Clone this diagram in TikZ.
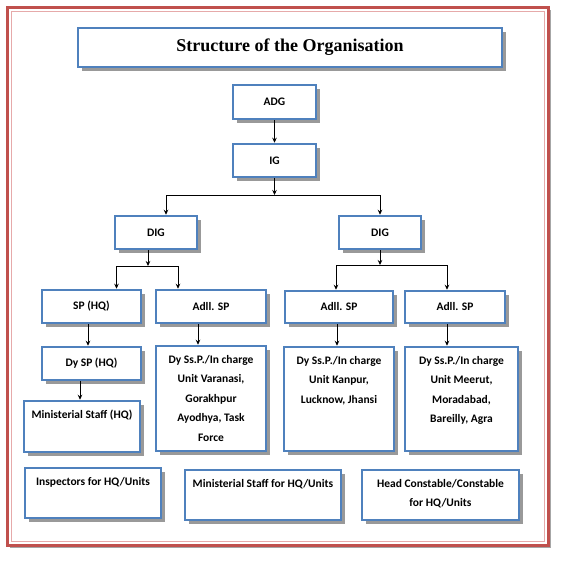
\documentclass[tikz,border=0pt]{standalone}
\usepackage{fontspec}
\setmainfont{Carlito}
\newfontfamily\titlefont{Liberation Serif}
\usetikzlibrary{shadows,arrows.meta}

\definecolor{boxblue}{RGB}{79,129,189}
\definecolor{framered}{RGB}{192,80,77}
\definecolor{framepink}{RGB}{230,170,170}

\begin{document}
\begin{tikzpicture}[x=1pt,y=-1pt]
	\tikzset{
		post/.style={draw=boxblue, line width=2.5pt, fill=white, inner sep=0pt,
			font=\fontsize{11.5}{19.5}\selectfont\bfseries, align=center,
			drop shadow={shadow xshift=3.5pt, shadow yshift=-3.5pt, fill=black!40, opacity=1}},
		toptext/.style={inner sep=0pt, font=\fontsize{11.5}{19.5}\selectfont\bfseries, align=center},
		every path/.style={>={Stealth[length=5pt,width=4.5pt]}},
		link/.style={->, line width=0.8pt}
	}
	\useasboundingbox (0,0) rectangle (564,562);

	% outer frame
	\draw[framered, line width=3pt, fill=white,
		drop shadow={shadow xshift=3pt, shadow yshift=-3pt, fill=black!35, opacity=1}] (7,7) rectangle (548,545);
	\draw[framepink, line width=1pt] (11,11) rectangle (544,541);

	\node [post, minimum width=424, minimum height=39] (title) at (290,47.5)
		{\titlefont\fontsize{18}{20}\selectfont\bfseries Structure of the Organisation};

	\node [post, minimum width=83, minimum height=34] (adg) at (274.5,102) {ADG};
	\node [post, minimum width=83, minimum height=33] (ig)  at (274.5,160.5) {IG};

	\node [post, minimum width=82, minimum height=33] (digL) at (156,232.5) {DIG};
	\node [post, minimum width=82, minimum height=33] (digR) at (380,232.5) {DIG};

	\node [post, minimum width=99,  minimum height=33] (sphq)  at (91.5,306.5) {SP (HQ)};
	\node [post, minimum width=110, minimum height=33] (adllA) at (211,306.5) {Adll. SP};
	\node [post, minimum width=108, minimum height=32] (adllB) at (339,307) {Adll. SP};
	\node [post, minimum width=100, minimum height=32] (adllC) at (455,307) {Adll. SP};

	\node [post, minimum width=99, minimum height=33] (dysphq) at (91.5,363.5) {Dy SP (HQ)};
	\node [post, minimum width=116, minimum height=51,
		label={[toptext, anchor=north, yshift=-10pt]north:Ministerial Staff (HQ)}] (minhq) at (82,426.5) {};

	\node [post, minimum width=110, minimum height=105,
		label={[toptext, anchor=north, yshift=-10pt]north:Dy Ss.P./In charge\\Unit Varanasi,\\Gorakhpur\\Ayodhya, Task\\Force}] (dyA) at (211,398.5) {};
	\node [post, minimum width=110, minimum height=104,
		label={[toptext, anchor=north, yshift=-10pt]north:Dy Ss.P./In charge\\Unit Kanpur,\\Lucknow, Jhansi}] (dyB) at (339,399) {};
	\node [post, minimum width=113, minimum height=104,
		label={[toptext, anchor=north, yshift=-10pt]north:Dy Ss.P./In charge\\Unit Meerut,\\Moradabad,\\Bareilly, Agra}] (dyC) at (461.5,399) {};

	\node [post, minimum width=136, minimum height=50,
		label={[toptext, anchor=north, yshift=-10pt]north:Inspectors for HQ/Units}] (insp) at (93,493) {};
	\node [post, minimum width=156, minimum height=50,
		label={[toptext, anchor=north, yshift=-10pt]north:Ministerial Staff for HQ/Units}] (minunits) at (263,495) {};
	\node [post, minimum width=157, minimum height=50,
		label={[toptext, anchor=north, yshift=-10pt]north:Head Constable/Constable\\for HQ/Units}] (headc) at (440.5,495) {};

	% connectors
	\coordinate (igj)   at (274.5,195);
	\coordinate (digLj) at (148,266);
	\coordinate (digRj) at (380,265);

	\draw[link] (adg) -- (ig);
	\draw[link] (ig) -- (igj);
	\draw[link] (igj) -| ([xshift=10pt]digL.north);
	\draw[link] (igj) -| (digR.north);

	\draw[link] (digL.south -| digLj) -- (digLj);
	\draw[link] (digLj) -| ([xshift=25pt]sphq.north);
	\draw[link] (digLj) -| ([xshift=-33pt]adllA.north);

	\draw[link] (digR) -- (digRj);
	\draw[link] (digRj) -| ([xshift=-3pt]adllB.north);
	\draw[link] (digRj) -| ([xshift=-8pt]adllC.north);

	\draw[link] ([xshift=-3.5pt]sphq.south) -- ([xshift=-3.5pt]dysphq.north);
	\draw[link] ([xshift=-11.5pt]dysphq.south) -- ([xshift=-2pt]minhq.north);
	\draw[link] ([xshift=-13pt]adllA.south) -- ([xshift=-13pt]dyA.north);
	\draw[link] ([xshift=-2pt]adllB.south) -- ([xshift=-2pt]dyB.north);
	\draw[link] ([xshift=-8pt]adllC.south) -- ([xshift=-14.5pt]dyC.north);
\end{tikzpicture}
\end{document}
